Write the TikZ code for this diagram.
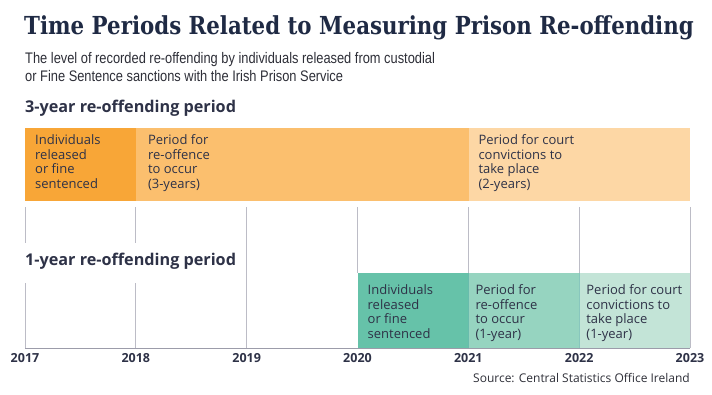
\documentclass[tikz,border=0pt]{standalone}
\usepackage{fontspec}
\setmainfont{Open Sans}
\newfontfamily\titlefont[FakeStretch=0.86]{DejaVu Serif}
\newfontfamily\condfont[FakeStretch=0.84]{Liberation Sans}
\newfontfamily\bodyfont{Open Sans}
\definecolor{navy}{HTML}{1F2A44}
\definecolor{txt}{HTML}{2E3247}
\definecolor{subgray}{HTML}{2E2F38}
\definecolor{orA}{HTML}{F8A637}
\definecolor{orB}{HTML}{FBBF6E}
\definecolor{orC}{HTML}{FDD7A5}
\definecolor{grA}{HTML}{66C2A9}
\definecolor{grB}{HTML}{96D4C0}
\definecolor{grC}{HTML}{C3E4D7}
\definecolor{tick}{HTML}{BCBCC6}
\definecolor{axis}{HTML}{9C9CAA}
\tikzset{
  band/.style={draw=none, inner sep=0pt, anchor=north west, minimum width=110.8pt, minimum height=73pt},
  boxtext/.style={anchor=north west, inner sep=0pt, align=left, text=txt, font=\bodyfont\fontsize{13}{14.5}\selectfont},
  tickline/.style={draw=tick, line width=1pt},
  yearlab/.style={anchor=north, inner sep=0pt, text=txt, font=\bodyfont\bfseries\fontsize{12.5}{13}\selectfont},
  heading/.style={anchor=west, inner sep=0pt, text=txt, font=\bodyfont\bfseries\fontsize{16.2}{17}\selectfont}
}
\begin{document}
\begin{tikzpicture}[x=1pt,y=-1pt]
\useasboundingbox (0,0) rectangle (712,394);
\fill[white] (0,0) rectangle (712,394);
% year positions
\foreach \n/\xx in {2017/25,2018/135.8,2019/246.7,2020/357.5,2021/468.3,2022/579.2,2023/690}
  \coordinate (y\n) at (\xx,348);
% title
\node[anchor=west, inner sep=0pt, text=navy, font=\titlefont\bfseries\fontsize{24.8}{26}\selectfont] (title) at (24,28) {Time Periods Related to Measuring Prison Re-offending};
\node[anchor=north west, inner sep=0pt, align=left, text=subgray, font=\condfont\fontsize{15.3}{18}\selectfont] (sub) at (25,52) {The level of recorded re-offending by individuals released from custodial\\or Fine Sentence sanctions with the Irish Prison Service};
\node[heading] (h3) at (25,108) {3-year re-offending period};
\node[heading] (h1) at (25,261) {1-year re-offending period};
% tick lines
\draw[tickline] (y2017 |- 0,207) -- (y2017 |- 0,243);
\draw[tickline] (y2018 |- 0,207) -- (y2018 |- 0,243);
\draw[tickline] (y2017 |- 0,283) -- (y2017);
\draw[tickline] (y2018 |- 0,283) -- (y2018);
\draw[tickline] (y2019 |- 0,207) -- (y2019);
\draw[tickline] (y2020 |- 0,207) -- (y2020 |- 0,273);
\draw[tickline] (y2021 |- 0,207) -- (y2021 |- 0,273);
\draw[tickline] (y2022 |- 0,207) -- (y2022 |- 0,273);
\draw[tickline] (y2023 |- 0,207) -- (y2023 |- 0,273);
% 3-year bands
\node[band, fill=orA] (o1) at (y2017 |- 0,128) {};
\node[band, fill=orB, minimum width=332.5pt] (o2) at (y2018 |- 0,128) {};
\node[band, fill=orC, minimum width=221.7pt] (o3) at (y2021 |- 0,128) {};
\node[boxtext] (t1) at ([xshift=10pt,yshift=-6.5pt]o1.north west) {Individuals\\released\\or fine\\sentenced};
\node[boxtext] (t2) at ([xshift=12pt,yshift=-6.5pt]o2.north west) {Period for\\re-offence\\to occur\\(3-years)};
\node[boxtext] (t3) at ([xshift=10pt,yshift=-6.5pt]o3.north west) {Period for court\\convictions to\\take place\\(2-years)};
% 1-year bands
\node[band, fill=grA, minimum height=75pt] (g1) at (y2020 |- 0,273) {};
\node[band, fill=grB, minimum height=75pt] (g2) at (y2021 |- 0,273) {};
\node[band, fill=grC, minimum height=75pt] (g3) at (y2022 |- 0,273) {};
\draw[draw=grB!70!teal, line width=0.8pt] (g1.north east) -- (g1.south east);
\draw[draw=grC!70!teal, line width=0.8pt] (g2.north east) -- (g2.south east);
\draw[draw=tick, line width=0.8pt] (g3.north east) -- (g3.south east);
\node[boxtext] (t4) at ([xshift=10pt,yshift=-11.5pt]g1.north west) {Individuals\\released\\or fine\\sentenced};
\node[boxtext] (t5) at ([xshift=7pt,yshift=-11.5pt]g2.north west) {Period for\\re-offence\\to occur\\(1-year)};
\node[boxtext] (t6) at ([xshift=7pt,yshift=-11.5pt]g3.north west) {Period for court\\convictions to\\take place\\(1-year)};
% axis
\draw[draw=axis, line width=1pt] (y2017) -- (y2023);
\foreach \n in {2017,2018,2019,2020,2021,2022,2023}
  \node[yearlab] (l\n) at ([yshift=-5pt]y\n) {\n};
\node[anchor=east, inner sep=0pt, text=subgray, font=\bodyfont\fontsize{12}{13}\selectfont] (src) at (690,378) {Source: Central Statistics Office Ireland};
\end{tikzpicture}
\end{document}
